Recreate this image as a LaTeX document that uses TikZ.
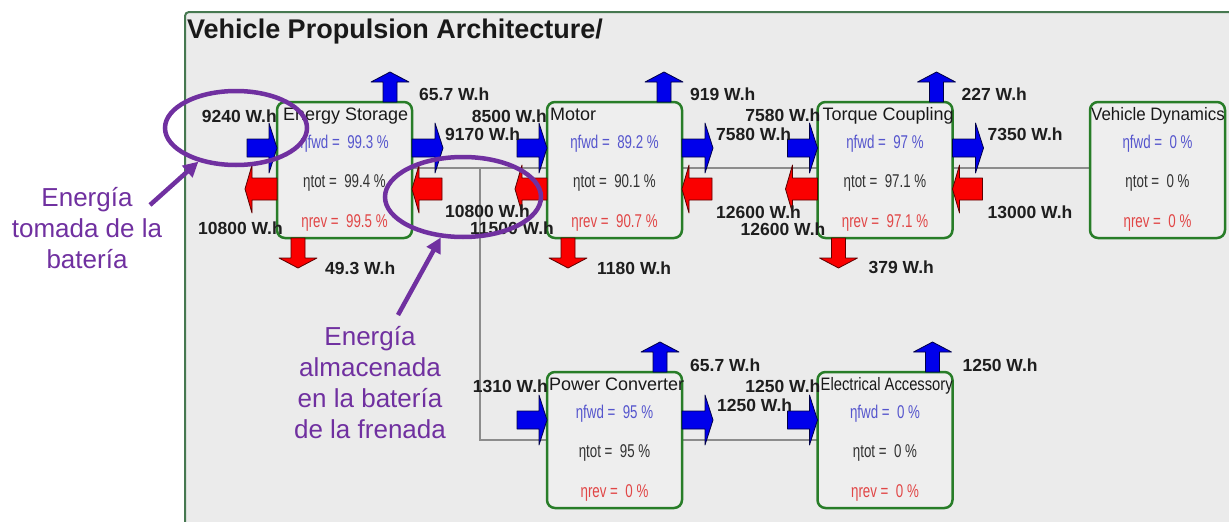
\documentclass[tikz,border=0pt]{standalone}
\usepackage{fontspec}
\setmainfont{Liberation Sans}
\newfontfamily\condf[FakeStretch=0.72]{Liberation Sans}
\usetikzlibrary{calc,shapes.geometric,arrows.meta}
\definecolor{panelbg}{RGB}{235,235,235}
\definecolor{boxbg}{RGB}{238,238,238}
\definecolor{boxgreen}{RGB}{40,125,40}
\definecolor{panelgreen}{RGB}{70,120,80}
\definecolor{linegrey}{RGB}{140,140,140}
\definecolor{arblue}{RGB}{0,0,235}
\definecolor{arnavy}{RGB}{0,0,70}
\definecolor{arred}{RGB}{250,0,0}
\definecolor{ardark}{RGB}{90,0,0}
\definecolor{fwdcol}{RGB}{85,85,205}
\definecolor{revcol}{RGB}{225,70,70}
\definecolor{totcol}{RGB}{50,50,50}
\definecolor{lblcol}{RGB}{30,30,30}
\definecolor{purp}{RGB}{112,48,160}
\tikzset{
  blk/.style={draw=boxgreen, line width=2.5pt, rounded corners=8pt, fill=boxbg,
    minimum width=135pt, minimum height=136pt, inner sep=0pt, outer sep=0pt},
  btitle/.style={anchor=base west, inner sep=0pt, font=\fontsize{18}{18}\selectfont, text=black!90},
  eta/.style={anchor=base, inner sep=0pt, font=\condf\fontsize{18.5}{18.5}\selectfont},
  lbl/.style={inner sep=0pt, font=\bfseries\fontsize{17.5}{17.5}\selectfont, text=lblcol},
  gline/.style={draw=linegrey, line width=2pt},
  bluear/.style={fill=arblue, draw=arnavy, line width=0.8pt, line join=round},
  redar/.style={fill=arred, draw=ardark, line width=0.8pt, line join=round},
  purpline/.style={draw=purp, line width=4.5pt},
  annot/.style={text=purp, align=center, inner sep=0pt, font=\fontsize{26}{31}\selectfont},
  fwdin/.pic={\path[bluear] (-30,-9) -- (-8,-9) -- (-8,-25) -- (0,0) -- (-8,25) -- (-8,9) -- (-30,9) -- cycle;},
  fwdout/.pic={\path[bluear] (0,-9) -- (23,-9) -- (23,-25) -- (31,0) -- (23,25) -- (23,9) -- (0,9) -- cycle;},
  revout/.pic={\path[redar] (0,-11) -- (-25,-11) -- (-25,-24) -- (-32,0) -- (-25,24) -- (-25,11) -- (0,11) -- cycle;},
  revin/.pic={\path[redar] (30,-11) -- (7,-11) -- (7,-24) -- (0,0) -- (7,24) -- (7,11) -- (30,11) -- cycle;},
  upar/.pic={\path[bluear] (-7,0) -- (-7,-20) -- (-19,-20) -- (0,-30) -- (19,-20) -- (7,-20) -- (7,0) -- cycle;},
  downar/.pic={\path[redar] (-7,0) -- (-7,20) -- (-19,20) -- (0,30) -- (19,20) -- (7,20) -- (7,0) -- cycle;},
}
\newcommand\etalines[4]{%
  \node[eta,text=fwdcol] (#1-f) at ($(#1.north)+(0,46)$) {ηfwd =\ \ #2 \%};
  \node[eta,text=totcol] (#1-t) at ($(#1.north)+(0,85)$) {ηtot =\ \ #3 \%};
  \node[eta,text=revcol] (#1-r) at ($(#1.north)+(0,125)$) {ηrev =\ \ #4 \%};
}
\begin{document}
\begin{tikzpicture}[x=1pt,y=-1pt]
\useasboundingbox (0,0) rectangle (1229,522);
\fill[white] (0,0) rectangle (1229,522);
\fill[panelbg] (185,12) rectangle (1229,522);
\draw[panelgreen, line width=2pt, rounded corners=4pt] (185,522) -- (185,12) -- (1229,12);
\node[anchor=base west, inner sep=0pt, font=\bfseries\fontsize{27}{27}\selectfont, text=black!90] (title) at (187,38) {Vehicle Propulsion Architecture/};

\path (344.5,170) coordinate (cES) (614.5,170) coordinate (cMO) (885,170) coordinate (cTC)
      (1157.5,170) coordinate (cVD) (614.5,440) coordinate (cPC) (885,440) coordinate (cEA);
\coordinate (j1) at (480,168);
\coordinate (j2) at (480,440);
\draw[gline] ($(cES)+(67,-2)$) -- ($(cVD)+(-67,-2)$);
\draw[gline] (j1) -- (j2) -- ($(cEA)+(-67,0)$);

\node[blk] (es) at (cES) {};
\node[blk] (mo) at (cMO) {};
\node[blk] (tc) at (cTC) {};
\node[blk] (vd) at (cVD) {};
\node[blk] (pc) at (cPC) {};
\node[blk] (ea) at (cEA) {};

\node[btitle] (es-n) at ($(es.north west)+(6,18)$) {Energy Storage};
\node[btitle] (mo-n) at ($(mo.north west)+(3,18)$) {Motor};
\node[btitle] (tc-n) at ($(tc.north west)+(5,18)$) {Torque Coupling};
\node[btitle] (vd-n) at ($(vd.north west)+(1,18)$) {\scalebox{0.94}[1]{Vehicle Dynamics}};
\node[btitle] (pc-n) at ($(pc.north west)+(2,18)$) {Power Converter};
\node[btitle] (ea-n) at ($(ea.north west)+(3,18)$) {\scalebox{0.82}[1]{Electrical Accessory}};

\etalines{es}{99.3}{99.4}{99.5}
\etalines{mo}{89.2}{90.1}{90.7}
\etalines{tc}{97}{97.1}{97.1}
\etalines{vd}{0}{0}{0}
\etalines{pc}{95}{95}{0}
\etalines{ea}{0}{0}{0}

\pic at ($(es.north west)+(0,46)$) {fwdin};
\pic at ($(es.north west)+(0,87)$) {revout};
\pic at ($(es.north east)+(0,46)$) {fwdout};
\pic at ($(es.north east)+(0,87)$) {revin};
\pic at ($(es.north east)+(-22,0)$) {upar};
\pic at ($(es.south west)+(21,0)$) {downar};

\pic at ($(mo.north west)+(0,46)$) {fwdin};
\pic at ($(mo.north west)+(0,87)$) {revout};
\pic at ($(mo.north east)+(0,46)$) {fwdout};
\pic at ($(mo.north east)+(0,87)$) {revin};
\pic at ($(mo.north east)+(-18,0)$) {upar};
\pic at ($(mo.south west)+(21,0)$) {downar};

\pic at ($(tc.north west)+(0,46)$) {fwdin};
\pic at ($(tc.north west)+(0,87)$) {revout};
\pic at ($(tc.north east)+(0,46)$) {fwdout};
\pic at ($(tc.north east)+(0,87)$) {revin};
\pic at ($(tc.north east)+(-16,0)$) {upar};
\pic at ($(tc.south west)+(21,0)$) {downar};

\pic at ($(pc.north west)+(0,48)$) {fwdin};
\pic at ($(pc.north east)+(0,48)$) {fwdout};
\pic at ($(pc.north east)+(-22,0)$) {upar};

\pic at ($(ea.north west)+(0,48)$) {fwdin};
\pic at ($(ea.north east)+(-20,0)$) {upar};

\node[lbl,anchor=base east] (l1) at ($(es.north west)+(0,20)$) {9240 W.h};
\node[lbl,anchor=base east] (l2) at ($(es.south west)+(6,-4)$) {10800 W.h};
\node[lbl,anchor=base west] (l3) at ($(es.north east)+(7,-2)$) {65.7 W.h};
\node[lbl,anchor=base west] (l4) at ($(es.north east)+(33,38)$) {9170 W.h};
\node[lbl,anchor=base west] (l5) at ($(es.north east)+(33,115)$) {10800 W.h};
\node[lbl,anchor=base west] (l6) at ($(es.south west)+(48,36)$) {49.3 W.h};

\node[lbl,anchor=base east] (l7) at ($(mo.north west)+(0,20)$) {8500 W.h};
\node[lbl,anchor=base east] (l8) at ($(mo.south west)+(7,-4)$) {11500 W.h};
\node[lbl,anchor=base west] (l9) at ($(mo.north east)+(8,-2)$) {919 W.h};
\node[lbl,anchor=base west] (l10) at ($(mo.north east)+(34,38)$) {7580 W.h};
\node[lbl,anchor=base west] (l11) at ($(mo.north east)+(34,116)$) {12600 W.h};
\node[lbl,anchor=base west] (l12) at ($(mo.south west)+(50,36)$) {1180 W.h};

\node[lbl,anchor=base east] (l13) at ($(tc.north west)+(3,19)$) {7580 W.h};
\node[lbl,anchor=base east] (l14) at ($(tc.south west)+(8,-3)$) {12600 W.h};
\node[lbl,anchor=base west] (l15) at ($(tc.north east)+(9,-2)$) {227 W.h};
\node[lbl,anchor=base west] (l16) at ($(tc.north east)+(35,38)$) {7350 W.h};
\node[lbl,anchor=base west] (l17) at ($(tc.north east)+(35,116)$) {13000 W.h};
\node[lbl,anchor=base west] (l18) at ($(tc.south west)+(51,35)$) {379 W.h};

\node[lbl,anchor=base east] (l19) at ($(pc.north west)+(1,20)$) {1310 W.h};
\node[lbl,anchor=base west] (l20) at ($(pc.north east)+(8,-1)$) {65.7 W.h};
\node[lbl,anchor=base west] (l21) at ($(pc.north east)+(35,39)$) {1250 W.h};
\node[lbl,anchor=base east] (l22) at ($(ea.north west)+(3,20)$) {1250 W.h};
\node[lbl,anchor=base west] (l23) at ($(ea.north east)+(10,-1)$) {1250 W.h};

\node[ellipse, purpline, minimum width=142pt, minimum height=74pt, inner sep=0pt] (e1) at (236,128) {};
\node[ellipse, purpline, minimum width=156pt, minimum height=80pt, inner sep=0pt] (e2) at (463,197) {};
\node[annot] (a1) at (87,228) {Energía\\tomada de la\\batería};
\node[annot] (a2) at (370,383) {Energía\\almacenada\\en la batería\\de la frenada};
\coordinate (a1s) at (150,205);
\coordinate (a2s) at (398,315);
\draw[purpline, -{Triangle[length=15pt,width=15pt]}] (a1s) -- (e1);
\draw[purpline, -{Triangle[length=15pt,width=15pt]}] (a2s) -- (e2);
\end{tikzpicture}
\end{document}
